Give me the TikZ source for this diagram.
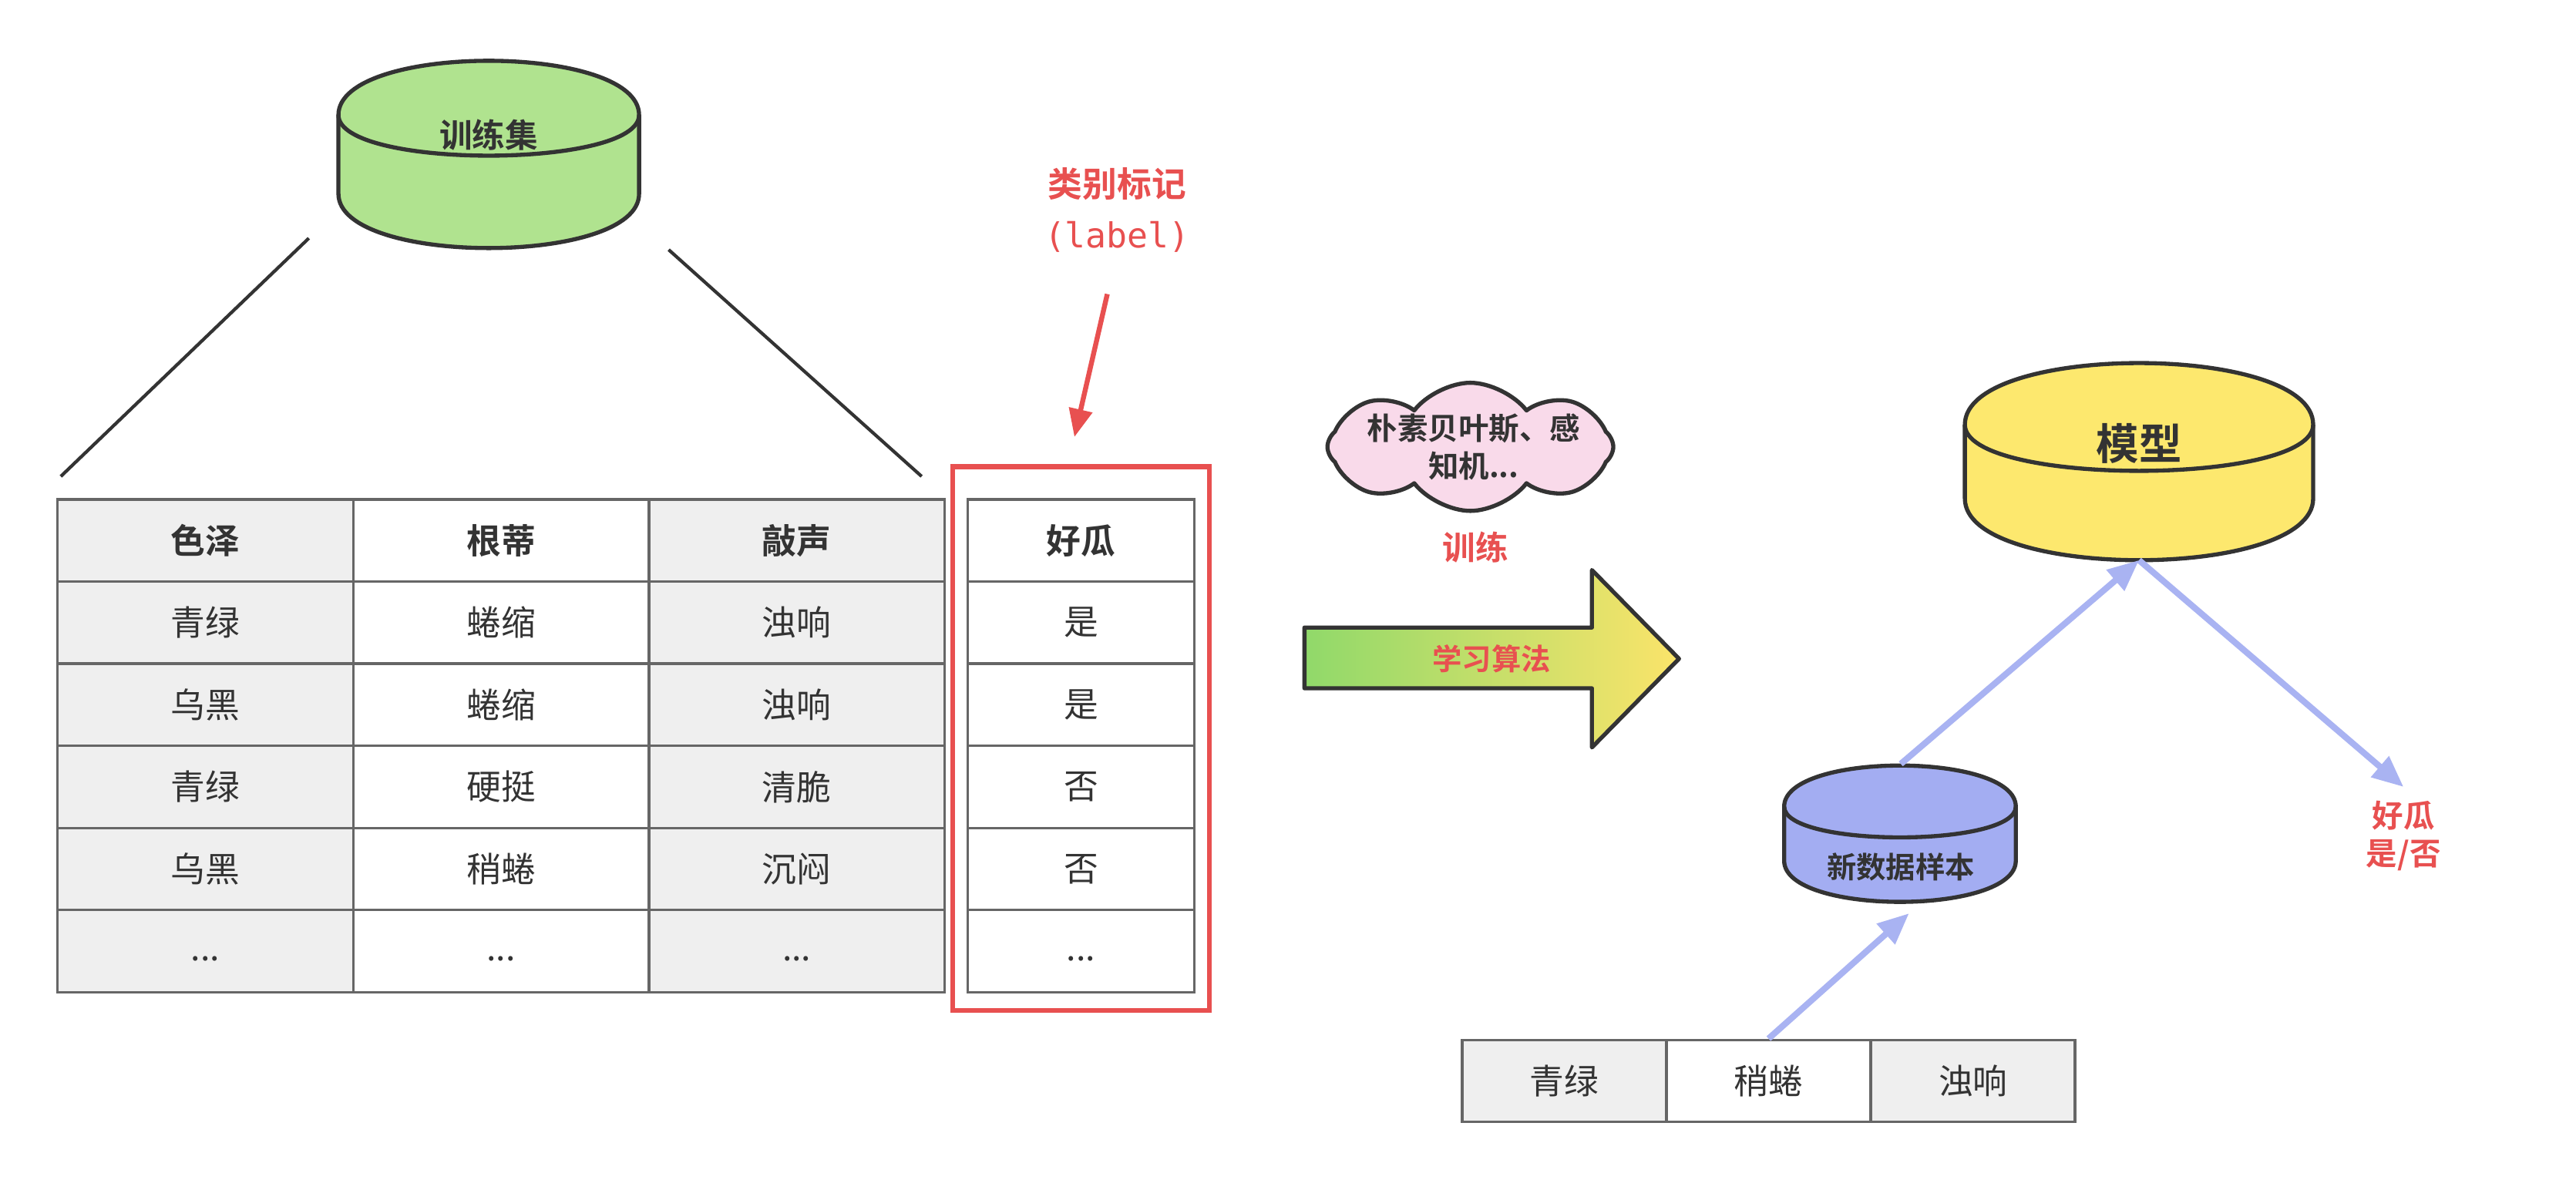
\documentclass[tikz,border=0pt]{standalone}
\usepackage{fontspec}
\setmainfont{Noto Sans CJK SC}[BoldFont={* Bold}]
\newfontfamily\monofont{DejaVu Sans Mono}
\usetikzlibrary{arrows.meta,shapes.symbols}

\definecolor{ink}{RGB}{51,51,51}
\definecolor{gridline}{RGB}{102,102,102}
\definecolor{cellgray}{RGB}{239,239,239}
\definecolor{accent}{RGB}{232,80,80}
\definecolor{setgreen}{RGB}{176,227,143}
\definecolor{modelyellow}{RGB}{253,232,110}
\definecolor{samplepurple}{RGB}{163,173,242}
\definecolor{flowblue}{RGB}{169,179,242}
\definecolor{cloudpink}{RGB}{249,218,234}
\definecolor{gradgreen}{RGB}{144,217,106}
\definecolor{gradyellow}{RGB}{251,228,106}

% ellipsis sitting on the text baseline of a cell
\newcommand\celldots{\vphantom{a}...}

\tikzset{
  outline/.style={draw=ink, line width=2.5pt, line join=round},
  cell/.style={draw=gridline, line width=1.5pt, minimum width=180pt, minimum height=50pt,
    inner sep=0pt, text=ink, font=\fontsize{21}{25}\selectfont},
  graycell/.style={cell, fill=cellgray},
  whitecell/.style={cell, fill=white},
  headcell/.style={font=\fontsize{21}{25}\selectfont\bfseries},
  labelcell/.style={whitecell, minimum width=138pt},
  smallcell/.style={cell, minimum width=124pt},
  flow/.style={draw=flowblue, line width=3.8pt,
    -{Triangle[length=19pt,width=16pt]}},
  redflow/.style={draw=accent, line width=3pt, -{Triangle[length=17pt,width=14pt]}},
  redtext/.style={text=accent, font=\fontsize{20}{24}\selectfont\bfseries, align=center},
  darkbold/.style={text=ink, align=center},
}

% cylinder: x-left, x-right, top, bottom, cap depth, fill colour
\newcommand\drawcyl[6]{%
  \pgfmathsetmacro\cyA{#3+#5}%
  \pgfmathsetmacro\cyB{#3-#5/3}%
  \pgfmathsetmacro\cyC{#3+2*#5}%
  \pgfmathsetmacro\cyD{#4-#5}%
  \pgfmathsetmacro\cyE{#4+#5/3}%
  \filldraw[outline, fill=#6] (#1,\cyA) .. controls (#1,\cyB) and (#2,\cyB) .. (#2,\cyA)
    -- (#2,\cyD) .. controls (#2,\cyE) and (#1,\cyE) .. (#1,\cyD) -- cycle;
  \draw[outline] (#1,\cyA) .. controls (#1,\cyC) and (#2,\cyC) .. (#2,\cyA);
}

\begin{document}
\begin{tikzpicture}[x=1pt, y=-1pt]
  \path[fill=white, use as bounding box] (0,0) rectangle (1568,718);

  % training set
  \drawcyl{206}{389}{37}{151}{33}{setgreen}
  \node[darkbold, font=\fontsize{20}{24}\selectfont\bfseries] (trainset) at (297.5,82) {训练集};
  \coordinate (setL) at (188,145);
  \coordinate (setR) at (407,152);
  \coordinate (tabL) at (37,290);
  \coordinate (tabR) at (561,290);
  \draw[draw=ink, line width=2pt] (setL) -- (tabL);
  \draw[draw=ink, line width=2pt] (setR) -- (tabR);

  % feature table
  \foreach \r/\a/\b [count=\i from 0] in {色泽/根蒂/敲声, 青绿/蜷缩/浊响, 乌黑/蜷缩/浊响, 青绿/硬挺/清脆, 乌黑/稍蜷/沉闷, \celldots/\celldots/\celldots}{
    \pgfmathsetmacro\ry{329+50*\i}
    \ifnum\i=0
      \node[graycell, headcell] (h1) at (125,\ry) {\r};
      \node[whitecell, headcell] (h2) at (305,\ry) {\a};
      \node[graycell, headcell] (h3) at (485,\ry) {\b};
    \else
      \node[graycell] (c\i a) at (125,\ry) {\r};
      \node[whitecell] (c\i b) at (305,\ry) {\a};
      \node[graycell] (c\i c) at (485,\ry) {\b};
    \fi
  }

  % label column
  \foreach \v [count=\i from 0] in {好瓜, 是, 是, 否, 否, \celldots}{
    \pgfmathsetmacro\ry{329+50*\i}
    \ifnum\i=0
      \node[labelcell, headcell] (lab\i) at (658,\ry) {\v};
    \else
      \node[labelcell] (lab\i) at (658,\ry) {\v};
    \fi
  }
  \node[draw=accent, line width=3pt, minimum width=156pt, minimum height=331pt, inner sep=0pt]
    (labbox) at (658,449.5) {};

  \node[redtext, font=\fontsize{21}{25}\selectfont\bfseries] (labtitle) at (680,112) {类别标记};
  \node[text=accent, font=\fontsize{21}{25}\monofont] (labword) at (680,144) {(label)};
  \coordinate (redstart) at (674,179);
  \coordinate (redend) at (654,266);
  \draw[redflow] (redstart) -- (redend);

  % learning algorithm
  \node[cloud, cloud puffs=8, cloud puff arc=105, cloud ignores aspect, outline, fill=cloudpink,
    minimum width=174pt, minimum height=78pt, inner sep=0pt, shape border rotate=0] (algcloud) at (895,272) {};
  \node[darkbold, font=\fontsize{18.5}{23}\selectfont\bfseries] (algtext) at (897,272)
    {朴素贝叶斯、感\\知机...};
  \node[redtext] (traintext) at (898,333) {训练};
  \path[outline, left color=gradgreen, right color=gradyellow]
    (794,382) -- (969,382) -- (969,347) -- (1022,401) -- (969,455) -- (969,419) -- (794,419) -- cycle;
  \node[redtext, font=\fontsize{18}{22}\selectfont\bfseries] (algname) at (908,401) {学习算法};

  % model
  \drawcyl{1196}{1408}{221}{341}{37.5}{modelyellow}
  \node[darkbold, font=\fontsize{26}{30}\selectfont\bfseries] (model) at (1302,270) {模型};
  \coordinate (modelbase) at (1302,341);

  % new sample
  \drawcyl{1086}{1227}{466}{549}{25}{samplepurple}
  \node[darkbold, font=\fontsize{18}{22}\selectfont\bfseries] (sample) at (1157,528) {新数据样本};
  \coordinate (sampletop) at (1157,465);
  \coordinate (samplein) at (1162,556);

  % prediction
  \node[redtext, font=\fontsize{19}{23}\selectfont\bfseries] (result) at (1463,509) {好瓜\\是/否};
  \coordinate (resultin) at (1463,479);

  % new sample row
  \node[smallcell, fill=cellgray] (s1) at (952,658) {青绿};
  \node[smallcell, fill=white] (s2) at (1076.5,658) {稍蜷};
  \node[smallcell, fill=cellgray] (s3) at (1201,658) {浊响};

  \draw[flow] (s2.north) -- (samplein);
  \draw[flow] (sampletop) -- (modelbase);
  \draw[flow] (modelbase) -- (resultin);
\end{tikzpicture}
\end{document}
